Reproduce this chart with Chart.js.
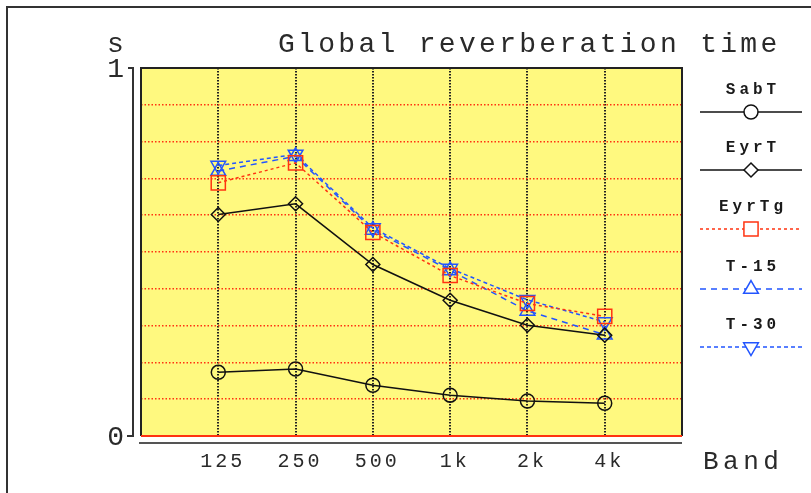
<!DOCTYPE html>
<html>
<head>
<meta charset="utf-8">
<script src="https://cdn.jsdelivr.net/npm/chart.js@4"></script>
<style>
  html, body { margin: 0; padding: 0; background: #fff; }
  #wrap { width: 811px; height: 493px; position: relative; }
</style>
</head>
<body>
<div id="wrap"><canvas id="chart" width="811" height="493"></canvas></div>
<script>
const bands = ['125', '250', '500', '1k', '2k', '4k'];
const sabT = [0.173, 0.182, 0.138, 0.111, 0.095, 0.089];
const eyrT = [0.602, 0.631, 0.466, 0.369, 0.301, 0.274];
const eyrTg = [0.688, 0.742, 0.553, 0.436, 0.360, 0.325];
const t15 = [0.720, 0.760, 0.560, 0.450, 0.340, 0.275];
const t30 = [0.735, 0.765, 0.565, 0.455, 0.370, 0.310];
const yTicks = [0, 1];

const MONO = '"Liberation Mono", "DejaVu Sans Mono", monospace';
const RED = '#ff3311';
const BLUE = '#2255ff';

function pts(arr) {
    return arr.map((v, i) => ({ x: i + 1, y: v }));
}

function series(label, data, color, dash, style, radius, rotation) {
    return {
        label: label,
        data: pts(data),
        borderColor: color,
        borderWidth: 1.5,
        borderDash: dash,
        pointStyle: style,
        pointRadius: radius,
        pointHoverRadius: radius,
        pointRotation: rotation || 0,
        pointBorderColor: color,
        pointBorderWidth: 1.5,
        pointBackgroundColor: 'rgba(0,0,0,0)',
        tension: 0
    };
}

function spacedText(ctx, text, x, y, font, spacing, align, color) {
    ctx.save();
    ctx.font = font;
    ctx.letterSpacing = spacing + 'px';
    ctx.fillStyle = color || '#1a1a1a';
    ctx.textBaseline = 'alphabetic';
    let w = ctx.measureText(text).width - spacing;
    let sx = x;
    if (align === 'center') sx = x - w / 2;
    if (align === 'right') sx = x - w;
    ctx.textAlign = 'left';
    ctx.fillText(text, sx, y);
    ctx.restore();
}

const decor = {
    id: 'decor',
    beforeDraw(chart) {
        const { ctx, chartArea: a } = chart;
        ctx.save();
        ctx.fillStyle = '#fff';
        ctx.fillRect(0, 0, chart.width, chart.height);
        // outer frame
        ctx.fillStyle = '#333';
        ctx.fillRect(6, 6, chart.width - 6, 2);
        ctx.fillRect(6, 6, 2, chart.height - 6);
        // plot background
        ctx.fillStyle = '#fff97f';
        ctx.fillRect(a.left, a.top, a.right - a.left, a.bottom - a.top);
        ctx.restore();
    },
    afterDraw(chart) {
        const { ctx, chartArea: a } = chart;
        const xs = chart.scales.x, ys = chart.scales.y;
        ctx.save();
        // plot frame
        ctx.strokeStyle = '#222';
        ctx.lineWidth = 2;
        ctx.beginPath();
        ctx.moveTo(a.left, a.bottom);
        ctx.lineTo(a.left, a.top);
        ctx.lineTo(a.right, a.top);
        ctx.lineTo(a.right, a.bottom);
        ctx.stroke();
        ctx.strokeStyle = RED;
        ctx.beginPath();
        ctx.moveTo(a.left, ys.getPixelForValue(0));
        ctx.lineTo(a.right, ys.getPixelForValue(0));
        ctx.stroke();

        // y axis line with end ticks
        const y0 = ys.getPixelForValue(0), y1 = ys.getPixelForValue(1);
        ctx.strokeStyle = '#333';
        ctx.beginPath();
        ctx.moveTo(128, y1);
        ctx.lineTo(133, y1);
        ctx.lineTo(133, y0);
        ctx.lineTo(127, y0);
        ctx.stroke();
        // x axis line
        ctx.strokeStyle = '#555';
        ctx.beginPath();
        ctx.moveTo(a.left - 2, 443);
        ctx.lineTo(a.right, 443);
        ctx.stroke();
        ctx.restore();

        // texts
        spacedText(ctx, 'Global reverberation time', 278, 52, '28px ' + MONO, 3.3, 'left', '#2a2a2a');
        spacedText(ctx, 's', 107, 52, '28px ' + MONO, 0, 'left', '#2a2a2a');
        spacedText(ctx, 'Band', 703, 469, '26px ' + MONO, 4.5, 'left', '#2a2a2a');
        yTicks.forEach(v => {
            spacedText(ctx, String(v), 124, ys.getPixelForValue(v) + 9, '28px ' + MONO, 0, 'right', '#2a2a2a');
        });
        bands.forEach((b, i) => {
            spacedText(ctx, b, xs.getPixelForValue(i + 1) + 3, 467, '20px ' + MONO, 3, 'center', '#2a2a2a');
        });

        // legend: label above a line sample with the marker
        const legY = [112, 170, 229, 289, 347];
        chart.data.datasets.forEach((ds, i) => {
            const ly = legY[i];
            spacedText(ctx, ds.label, 751, ly - 18, 'bold 16px ' + MONO, 4, 'center');
            ctx.save();
            ctx.strokeStyle = ds.borderColor;
            ctx.lineWidth = 1.5;
            ctx.setLineDash(ds.borderDash || []);
            ctx.beginPath();
            ctx.moveTo(700, ly);
            ctx.lineTo(802, ly);
            ctx.stroke();
            ctx.setLineDash([]);
            ctx.strokeStyle = ds.pointBorderColor;
            ctx.fillStyle = '#fff';
            ctx.lineWidth = 1.5;
            Chart.helpers.drawPoint(ctx, {
                pointStyle: ds.pointStyle,
                radius: ds.pointRadius,
                rotation: ds.pointRotation,
                borderWidth: 1.5
            }, 751, ly);
            ctx.restore();
        });
    }
};

new Chart(document.getElementById('chart').getContext('2d'), {
    type: 'line',
    data: {
        datasets: [
            series('SabT', sabT, '#111', [], 'circle', 7),
            series('EyrT', eyrT, '#111', [], 'rectRot', 7),
            series('EyrTg', eyrTg, RED, [3, 3], 'rect', 10),
            series('T-15', t15, BLUE, [6, 5], 'triangle', 8.5),
            series('T-30', t30, BLUE, [4, 3], 'triangle', 8.5, 180)
        ]
    },
    options: {
        responsive: false,
        animation: false,
        layout: { padding: { left: 141, right: 129, top: 68, bottom: 57 } },
        plugins: {
            legend: { display: false },
            title: { display: false },
            tooltip: { enabled: false }
        },
        scales: {
            x: {
                type: 'linear',
                min: 0,
                max: 7,
                ticks: { display: false, stepSize: 1 },
                grid: {
                    drawTicks: false,
                    lineWidth: 2,
                    color: c => (c.tick && c.tick.value >= 1 && c.tick.value <= 6) ? '#222' : 'rgba(0,0,0,0)'
                },
                border: { display: false, dash: [1.5, 1.5] }
            },
            y: {
                min: 0,
                max: 1,
                ticks: { display: false, stepSize: 0.1 },
                grid: {
                    drawTicks: false,
                    lineWidth: 1.5,
                    color: c => (c.tick && c.tick.value > 0.05 && c.tick.value < 0.95) ? RED : 'rgba(0,0,0,0)'
                },
                border: { display: false, dash: [1.5, 2] }
            }
        }
    },
    plugins: [decor]
});
</script>
</body>
</html>
